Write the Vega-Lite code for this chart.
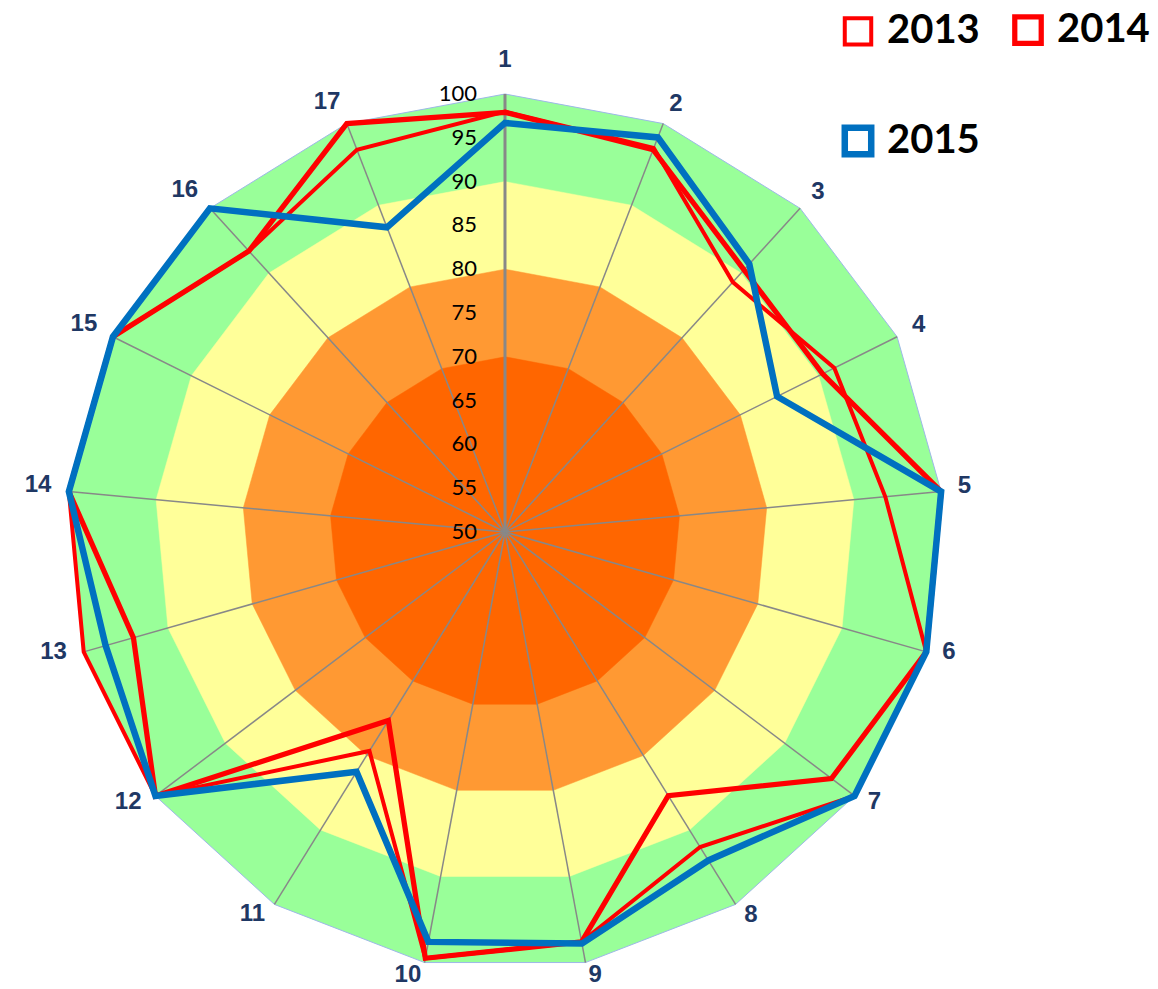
{
  "$schema": "https://vega.github.io/schema/vega-lite/v6.json",
  "width": 1158,
  "height": 989,
  "autosize": {"type": "none"},
  "padding": 0,
  "background": "white",
  "config": {"view": {"stroke": null}},
  "datasets": {
    "scores": [
      {"axis": 1, "2013": 98.0, "2014": 97.9, "2015": 96.7},
      {"axis": 2, "2013": 97.0, "2014": 96.8, "2015": 98.3},
      {"axis": 3, "2013": 88.6, "2014": 90.5, "2015": 91.4},
      {"axis": 4, "2013": 92.0, "2014": 90.5, "2015": 84.7},
      {"axis": 5, "2013": 93.6, "2014": 100, "2015": 100},
      {"axis": 6, "2013": 100, "2014": 100, "2015": 100},
      {"axis": 7, "2013": 100, "2014": 96.7, "2015": 100},
      {"axis": 8, "2013": 92.3, "2014": 85.4, "2015": 94.1},
      {"axis": 9, "2013": 97.6, "2014": 97.6, "2015": 97.8},
      {"axis": 10, "2013": 99.5, "2014": 99.5, "2015": 97.6},
      {"axis": 11, "2013": 79.4, "2014": 75.3, "2015": 82.2},
      {"axis": 12, "2013": 100, "2014": 100, "2015": 100},
      {"axis": 13, "2013": 100, "2014": 94.1, "2015": 97.4},
      {"axis": 14, "2013": 100, "2014": 100, "2015": 100},
      {"axis": 15, "2013": 100, "2014": 100, "2015": 100},
      {"axis": 16, "2013": 93.4, "2014": 93.4, "2015": 100},
      {"axis": 17, "2013": 96.8, "2014": 100, "2015": 87.3}
    ],
    "rings": [
      {"ring": 100, "axis": 1}, {"ring": 100, "axis": 2}, {"ring": 100, "axis": 3}, {"ring": 100, "axis": 4}, {"ring": 100, "axis": 5}, {"ring": 100, "axis": 6}, {"ring": 100, "axis": 7}, {"ring": 100, "axis": 8}, {"ring": 100, "axis": 9}, {"ring": 100, "axis": 10}, {"ring": 100, "axis": 11}, {"ring": 100, "axis": 12}, {"ring": 100, "axis": 13}, {"ring": 100, "axis": 14}, {"ring": 100, "axis": 15}, {"ring": 100, "axis": 16}, {"ring": 100, "axis": 17},
      {"ring": 90, "axis": 1}, {"ring": 90, "axis": 2}, {"ring": 90, "axis": 3}, {"ring": 90, "axis": 4}, {"ring": 90, "axis": 5}, {"ring": 90, "axis": 6}, {"ring": 90, "axis": 7}, {"ring": 90, "axis": 8}, {"ring": 90, "axis": 9}, {"ring": 90, "axis": 10}, {"ring": 90, "axis": 11}, {"ring": 90, "axis": 12}, {"ring": 90, "axis": 13}, {"ring": 90, "axis": 14}, {"ring": 90, "axis": 15}, {"ring": 90, "axis": 16}, {"ring": 90, "axis": 17},
      {"ring": 80, "axis": 1}, {"ring": 80, "axis": 2}, {"ring": 80, "axis": 3}, {"ring": 80, "axis": 4}, {"ring": 80, "axis": 5}, {"ring": 80, "axis": 6}, {"ring": 80, "axis": 7}, {"ring": 80, "axis": 8}, {"ring": 80, "axis": 9}, {"ring": 80, "axis": 10}, {"ring": 80, "axis": 11}, {"ring": 80, "axis": 12}, {"ring": 80, "axis": 13}, {"ring": 80, "axis": 14}, {"ring": 80, "axis": 15}, {"ring": 80, "axis": 16}, {"ring": 80, "axis": 17},
      {"ring": 70, "axis": 1}, {"ring": 70, "axis": 2}, {"ring": 70, "axis": 3}, {"ring": 70, "axis": 4}, {"ring": 70, "axis": 5}, {"ring": 70, "axis": 6}, {"ring": 70, "axis": 7}, {"ring": 70, "axis": 8}, {"ring": 70, "axis": 9}, {"ring": 70, "axis": 10}, {"ring": 70, "axis": 11}, {"ring": 70, "axis": 12}, {"ring": 70, "axis": 13}, {"ring": 70, "axis": 14}, {"ring": 70, "axis": 15}, {"ring": 70, "axis": 16}, {"ring": 70, "axis": 17}
    ],
    "ticks": [
      {"tick": 50}, {"tick": 55}, {"tick": 60}, {"tick": 65}, {"tick": 70}, {"tick": 75},
      {"tick": 80}, {"tick": 85}, {"tick": 90}, {"tick": 95}, {"tick": 100}
    ]
  },
  "layer": [
    {
      "data": {"name": "rings"},
      "transform": [
        {"filter": "datum.ring == 100"},
        {"calculate": "(datum.axis - 1) * 2 * PI / 17", "as": "ang"},
        {"calculate": "(datum.ring - 50) * sin(datum.ang)", "as": "px"},
        {"calculate": "(datum.ring - 50) * cos(datum.ang)", "as": "py"}
      ],
      "mark": {"type": "line", "interpolate": "linear-closed", "fill": "#99FF99", "stroke": "#9DB8E8", "strokeWidth": 1},
      "encoding": {
        "x": {"field": "px", "type": "quantitative", "scale": {"domain": [-57.648, 74.543], "nice": false, "zero": false}, "axis": null},
        "y": {"field": "py", "type": "quantitative", "scale": {"domain": [-52.169, 60.731], "nice": false, "zero": false}, "axis": null},
        "order": {"field": "axis", "type": "quantitative"}
      }
    },
    {
      "data": {"name": "rings"},
      "transform": [
        {"filter": "datum.ring == 90"},
        {"calculate": "(datum.axis - 1) * 2 * PI / 17", "as": "ang"},
        {"calculate": "(datum.ring - 50) * sin(datum.ang)", "as": "px"},
        {"calculate": "(datum.ring - 50) * cos(datum.ang)", "as": "py"}
      ],
      "mark": {"type": "line", "interpolate": "linear-closed", "fill": "#FFFF99", "stroke": "#FFFF99", "strokeWidth": 0.5},
      "encoding": {
        "x": {"field": "px", "type": "quantitative"},
        "y": {"field": "py", "type": "quantitative"},
        "order": {"field": "axis", "type": "quantitative"}
      }
    },
    {
      "data": {"name": "rings"},
      "transform": [
        {"filter": "datum.ring == 80"},
        {"calculate": "(datum.axis - 1) * 2 * PI / 17", "as": "ang"},
        {"calculate": "(datum.ring - 50) * sin(datum.ang)", "as": "px"},
        {"calculate": "(datum.ring - 50) * cos(datum.ang)", "as": "py"}
      ],
      "mark": {"type": "line", "interpolate": "linear-closed", "fill": "#FF9933", "stroke": "#FF9933", "strokeWidth": 0.5},
      "encoding": {
        "x": {"field": "px", "type": "quantitative"},
        "y": {"field": "py", "type": "quantitative"},
        "order": {"field": "axis", "type": "quantitative"}
      }
    },
    {
      "data": {"name": "rings"},
      "transform": [
        {"filter": "datum.ring == 70"},
        {"calculate": "(datum.axis - 1) * 2 * PI / 17", "as": "ang"},
        {"calculate": "(datum.ring - 50) * sin(datum.ang)", "as": "px"},
        {"calculate": "(datum.ring - 50) * cos(datum.ang)", "as": "py"}
      ],
      "mark": {"type": "line", "interpolate": "linear-closed", "fill": "#FF6600", "stroke": "#FF6600", "strokeWidth": 0.5},
      "encoding": {
        "x": {"field": "px", "type": "quantitative"},
        "y": {"field": "py", "type": "quantitative"},
        "order": {"field": "axis", "type": "quantitative"}
      }
    },
    {
      "data": {"name": "scores"},
      "transform": [
        {"filter": "datum.axis != 1"},
        {"calculate": "(datum.axis - 1) * 2 * PI / 17", "as": "ang"},
        {"calculate": "50 * sin(datum.ang)", "as": "ox"},
        {"calculate": "50 * cos(datum.ang)", "as": "oy"}
      ],
      "mark": {"type": "rule", "color": "#888888", "strokeWidth": 1.5},
      "encoding": {
        "x": {"field": "ox", "type": "quantitative"},
        "y": {"field": "oy", "type": "quantitative"},
        "x2": {"datum": 0},
        "y2": {"datum": 0}
      }
    },
    {
      "data": {"name": "scores"},
      "transform": [
        {"filter": "datum.axis == 1"},
        {"calculate": "(datum.axis - 1) * 2 * PI / 17", "as": "ang"},
        {"calculate": "50 * sin(datum.ang)", "as": "ox"},
        {"calculate": "50 * cos(datum.ang)", "as": "oy"}
      ],
      "mark": {"type": "rule", "color": "#888888", "strokeWidth": 3},
      "encoding": {
        "x": {"field": "ox", "type": "quantitative"},
        "y": {"field": "oy", "type": "quantitative"},
        "x2": {"datum": 0},
        "y2": {"datum": 0}
      }
    },
    {
      "data": {"name": "scores"},
      "transform": [
        {"fold": ["2013", "2014", "2015"], "as": ["series", "value"]},
        {"calculate": "(datum.axis - 1) * 2 * PI / 17", "as": "ang"},
        {"calculate": "(datum.value - 50) * sin(datum.ang)", "as": "px"},
        {"calculate": "(datum.value - 50) * cos(datum.ang)", "as": "py"}
      ],
      "mark": {"type": "line", "interpolate": "linear-closed", "strokeJoin": "miter", "strokeMiterLimit": 10},
      "encoding": {
        "x": {"field": "px", "type": "quantitative"},
        "y": {"field": "py", "type": "quantitative"},
        "order": {"field": "axis", "type": "quantitative"},
        "stroke": {
          "field": "series", "type": "nominal",
          "scale": {"domain": ["2013", "2014", "2015"], "range": ["#FF0000", "#FF0000", "#0070C0"]},
          "legend": {
            "title": null, "orient": "none", "legendX": 838, "legendY": 10, "columns": 2, "direction": "horizontal",
            "symbolType": "square", "symbolSize": 700, "symbolFillColor": "white",
            "labelFont": "Lato", "labelFontWeight": "bold", "labelFontSize": 40, "labelColor": "black",
            "labelOffset": 9, "rowPadding": 60, "columnPadding": 24, "padding": 0,
            "encode": {"symbols": {"update": {"strokeWidth": {"scale": "strokeWidth", "field": "value"}}}}
          }
        },
        "strokeWidth": {
          "field": "series", "type": "ordinal",
          "scale": {"domain": ["2013", "2014", "2015"], "range": [4, 6.5, 8]},
          "legend": {
            "title": null, "orient": "none", "legendX": 838, "legendY": 10, "columns": 2, "direction": "horizontal",
            "symbolType": "square", "symbolSize": 700, "symbolFillColor": "white",
            "labelFont": "Lato", "labelFontWeight": "bold", "labelFontSize": 40, "labelColor": "black",
            "labelOffset": 9, "rowPadding": 60, "columnPadding": 24, "padding": 0,
            "encode": {"symbols": {"update": {"strokeWidth": {"scale": "strokeWidth", "field": "value"}}}}
          }
        }
      }
    },
    {
      "data": {"name": "scores"},
      "transform": [
        {"filter": "datum.axis == 1"},
        {"calculate": "(datum.axis - 1) * 2 * PI / 17", "as": "ang"},
        {"calculate": "53.9 * sin(datum.ang)", "as": "lx"},
        {"calculate": "53.9 * cos(datum.ang)", "as": "ly"}
      ],
      "mark": {"type": "text", "font": "Liberation Sans", "fontWeight": "bold", "fontSize": 24, "color": "#1F3864", "align": "center", "baseline": "middle"},
      "encoding": {
        "x": {"field": "lx", "type": "quantitative"},
        "y": {"field": "ly", "type": "quantitative"},
        "text": {"field": "axis", "type": "nominal"}
      }
    },
    {
      "data": {"name": "scores"},
      "transform": [
        {"filter": "datum.axis >= 2 && datum.axis <= 9"},
        {"calculate": "(datum.axis - 1) * 2 * PI / 17", "as": "ang"},
        {"calculate": "51.9 * sin(datum.ang)", "as": "lx"},
        {"calculate": "51.9 * cos(datum.ang)", "as": "ly"}
      ],
      "mark": {"type": "text", "font": "Liberation Sans", "fontWeight": "bold", "fontSize": 24, "color": "#1F3864", "align": "left", "baseline": "middle", "dy": -4},
      "encoding": {
        "x": {"field": "lx", "type": "quantitative"},
        "y": {"field": "ly", "type": "quantitative"},
        "text": {"field": "axis", "type": "nominal"}
      }
    },
    {
      "data": {"name": "scores"},
      "transform": [
        {"filter": "datum.axis >= 10"},
        {"calculate": "(datum.axis - 1) * 2 * PI / 17", "as": "ang"},
        {"calculate": "52.0 * sin(datum.ang)", "as": "lx"},
        {"calculate": "52.0 * cos(datum.ang)", "as": "ly"}
      ],
      "mark": {"type": "text", "font": "Liberation Sans", "fontWeight": "bold", "fontSize": 24, "color": "#1F3864", "align": "right", "baseline": "middle", "dy": -5},
      "encoding": {
        "x": {"field": "lx", "type": "quantitative"},
        "y": {"field": "ly", "type": "quantitative"},
        "text": {"field": "axis", "type": "nominal"}
      }
    },
    {
      "data": {"name": "ticks"},
      "transform": [
        {"calculate": "datum.tick - 50", "as": "ty"},
        {"calculate": "-3.2", "as": "tx"}
      ],
      "mark": {"type": "text", "font": "Lato", "fontSize": 22, "color": "black", "align": "right", "baseline": "middle"},
      "encoding": {
        "x": {"field": "tx", "type": "quantitative"},
        "y": {"field": "ty", "type": "quantitative"},
        "text": {"field": "tick", "type": "quantitative"}
      }
    }
  ]
}
